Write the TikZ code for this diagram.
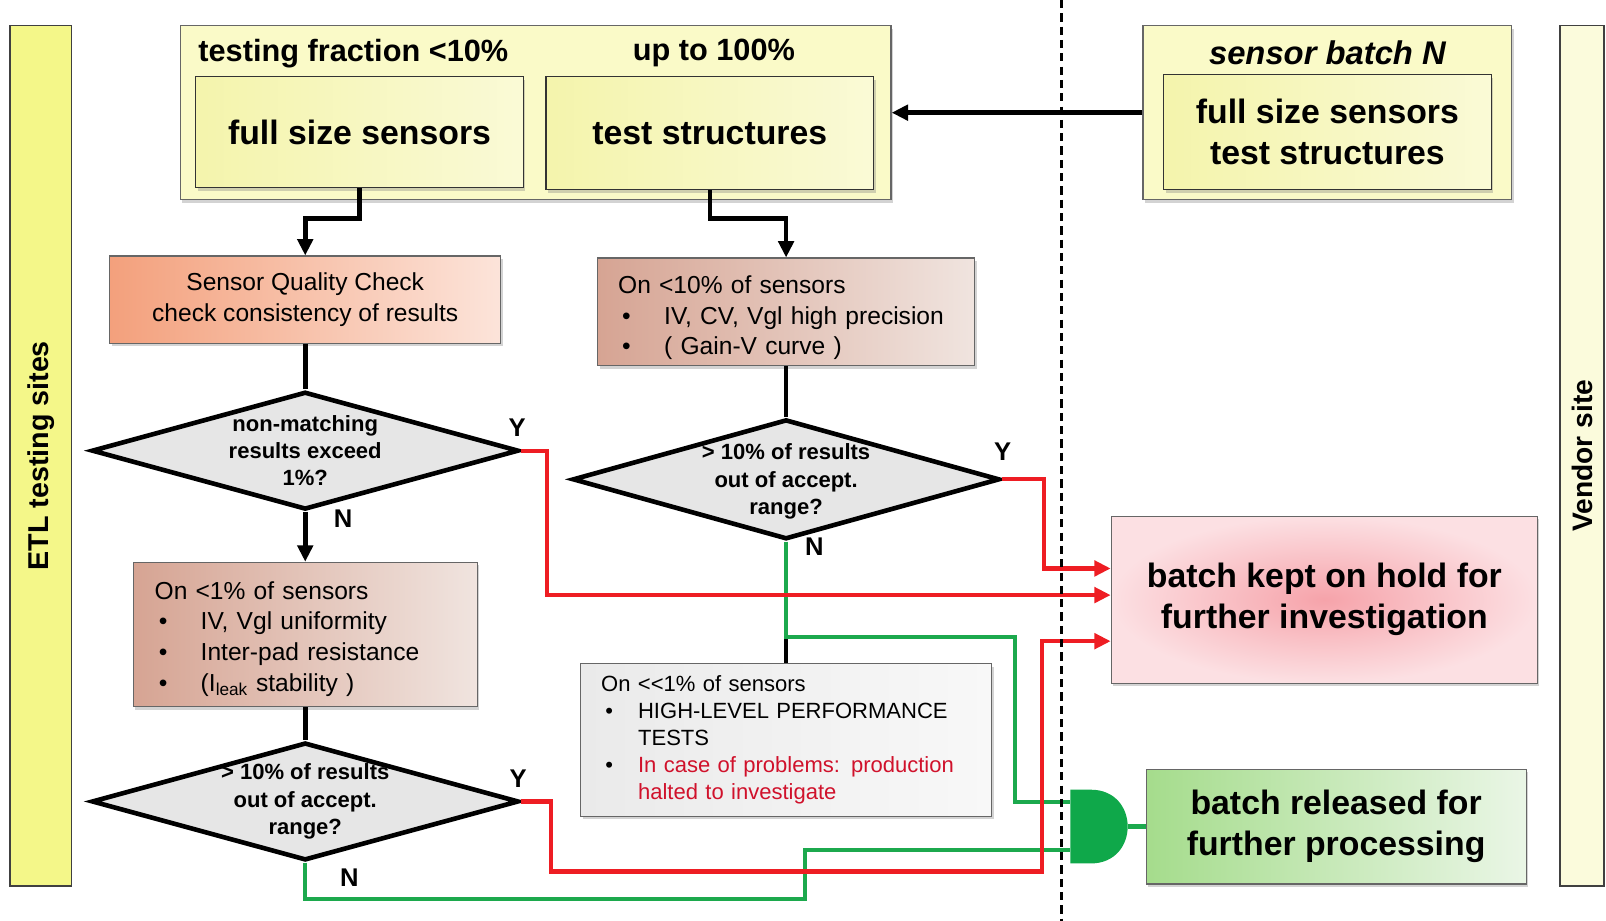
\documentclass[tikz,border=0pt]{standalone}
\usepackage{fontspec}
\setmainfont{Liberation Sans}
\usepackage{tikz}
\usetikzlibrary{positioning}
\usetikzlibrary{shapes.geometric}
\usetikzlibrary{shadows}
\usetikzlibrary{arrows.meta}
\usetikzlibrary{calc}

\definecolor{sitey}{HTML}{F4F789}
\definecolor{vendory}{HTML}{FBFBDC}
\definecolor{pale}{HTML}{FAFAC8}
\definecolor{paleL}{HTML}{F4F4AC}
\definecolor{paleR}{HTML}{FAFAD6}
\definecolor{sqcL}{HTML}{F3A07C}
\definecolor{sqcR}{HTML}{FCE4DA}
\definecolor{testL}{HTML}{D6A493}
\definecolor{testR}{HTML}{F0E4DF}
\definecolor{perfL}{HTML}{EAEAEA}
\definecolor{perfR}{HTML}{F8F8F8}
\definecolor{holdin}{HTML}{F6A3AA}
\definecolor{holdout}{HTML}{FCE0E3}
\definecolor{relL}{HTML}{A5DC8C}
\definecolor{relR}{HTML}{EAF6E6}
\definecolor{decfill}{HTML}{E6E6E6}
\definecolor{holdred}{HTML}{EE1D23}
\definecolor{passgreen}{HTML}{1CA94D}
\definecolor{gatefill}{HTML}{0FA84A}
\definecolor{alert}{HTML}{D0112B}

\newcommand{\itemdot}[1]{\makebox[#1][l]{\hspace{4pt}\textbullet}}

\begin{document}
\begin{tikzpicture}[x=1pt, y=-1pt,
    >={Triangle[length=16pt,width=15pt]},
    boxshadow/.style={drop shadow={shadow xshift=2pt, shadow yshift=-3pt, opacity=0.35}},
    sitebar/.style={draw=black!75, line width=1.5pt, inner sep=0pt, font=\fontsize{28}{34}\selectfont\bfseries},
    stackbox/.style={draw=black!60, line width=1.2pt, fill=pale, inner sep=0pt, boxshadow},
    sample/.style={draw=black!80, line width=1.2pt, left color=paleL, right color=paleR, inner sep=0pt, boxshadow, align=center, font=\fontsize{33}{40}\selectfont\bfseries},
    header/.style={font=\fontsize{30}{36}\selectfont\bfseries},
    checkbox/.style={draw=black!60, line width=1.2pt, inner sep=0pt, boxshadow, align=center, font=\fontsize{24}{30}\selectfont},
    listbox/.style={draw=black!60, line width=1.2pt, inner ysep=0pt, boxshadow, align=left, font=\fontsize{24}{30}\selectfont},
    decision/.style={diamond, draw=black, line width=4.5pt, fill=decfill, inner sep=0pt, minimum width=417pt, minimum height=115pt},
    dectext/.style={align=center, font=\fontsize{21.5}{26.5}\selectfont\bfseries},
    yn/.style={font=\fontsize{25}{30}\selectfont\bfseries},
    outcome/.style={draw=black!60, line width=1.2pt, inner sep=0pt, boxshadow, align=center, font=\fontsize{33}{40}\selectfont\bfseries},
    flow/.style={->, line width=4.5pt},
    link/.style={line width=4.5pt},
    redflow/.style={->, draw=holdred, line width=4.2pt},
    greenflow/.style={draw=passgreen, line width=4.2pt},
  ]
  \useasboundingbox (0,0) rectangle (1568,899);

  % sites
  \node[sitebar, fill=sitey, minimum width=60pt, minimum height=840pt] (etl) at (40,445) {\rotatebox{90}{ETL testing sites}};
  \node[sitebar, fill=vendory, minimum width=43pt, minimum height=840pt, font=\fontsize{27.5}{33}\selectfont\bfseries] (vendor) at (1544.5,445) {\rotatebox{90}{Vendor site}};

  % samples
  \node[stackbox, minimum width=694pt, minimum height=170pt] (testing) at (523,110) {};
  \node[header] (fraction) at (345,52) {testing fraction <10\%};
  \node[header] (upto)     at (697,52) {up to 100\%};
  \node[sample, minimum width=320pt, minimum height=108pt] (fullsize)   at (351,129) {full size sensors};
  \node[sample, minimum width=320pt, minimum height=110pt] (teststruct) at (693,130) {test structures};

  \node[stackbox, minimum width=360pt, minimum height=170pt] (batch) at (1296,110) {};
  \node[header] (batchname) at (1296,52) {\fontsize{32}{38}\selectfont\itshape sensor batch N};
  \node[sample, minimum width=320pt, minimum height=112pt] (batchcontent) at (1296,129) {full size sensors\\test structures};

  % checks
  \node[checkbox, left color=sqcL, right color=sqcR, minimum width=382pt, minimum height=85pt] (sqc) at (298,292.5) {Sensor Quality Check\\check consistency of results};
  \node[listbox, left color=testL, right color=testR, text width=328pt, inner xsep=20pt, minimum height=105pt] (precision) at (767.5,304.5)
    {\rule{0pt}{29pt}On <10\% of sensors\\\itemdot{45pt}IV, CV, Vgl high precision\\\itemdot{45pt}( Gain-V curve )};
  \node[listbox, left color=testL, right color=testR, text width=294pt, inner xsep=21pt, minimum height=141pt] (uniformity) at (298,619.5)
    {\rule{0pt}{26pt}On <1\% of sensors\\\itemdot{45pt}IV, Vgl uniformity\\\itemdot{45pt}Inter-pad resistance\\\itemdot{45pt}(I\textsubscript{leak} stability )};
  \node[listbox, left color=perfL, right color=perfR, text width=361pt, inner xsep=20pt, minimum height=149pt, font=\fontsize{21.5}{26.3}\selectfont] (performance) at (767.5,722.5)
    {On <{}<1\% of sensors\\\itemdot{36pt}HIGH-LEVEL PERFORMANCE\\\hspace*{36pt}TESTS\\\itemdot{36pt}\textcolor{alert}{In case of problems: production}\\\hspace*{36pt}\textcolor{alert}{halted to investigate}};

  % decisions
  \node[decision, label={[dectext]center:{non-matching\\results exceed\\1\%?}}] (dec1) at (298,440) {};
  \node[decision, minimum height=117pt, label={[dectext, yshift=-2pt]center:{> 10\% of results\\out of accept.\\range?}}] (dec2) at (767.5,468) {};
  \node[decision, label={[dectext]center:{> 10\% of results\\out of accept.\\range?}}] (dec3) at (298,782.5) {};
  \node[yn] (y1) at (505,418) {Y};
  \node[yn] (n1) at (335,506) {N};
  \node[yn] (y2) at (979,441) {Y};
  \node[yn] (n2) at (795,534) {N};
  \node[yn] (y3) at (506,760) {Y};
  \node[yn] (n3) at (341,857) {N};

  % outcomes
  \node[outcome, inner color=holdin, outer color=holdout, minimum width=416pt, minimum height=163pt] (hold) at (1293,585.5) {batch kept on hold for\\further investigation};
  \node[outcome, left color=relL, right color=relR, minimum width=371pt, minimum height=112pt] (release) at (1304.5,807) {batch released for\\further processing};

  \coordinate (gatein1) at (1045,783);
  \coordinate (gatein2) at (1045,830);
  \coordinate (gateout) at (1101,807);
  \coordinate (nsplit) at (767.5,622);
  \fill[gatefill] (1045,771) -- (1065,771) .. controls (1113,771) and (1113,843) .. (1065,843) -- (1045,843) -- cycle;

  % connectors
  \draw[flow] (batch.west) -- (testing.east);
  \draw[flow] (fullsize.south) -- ++(0,30) -| (sqc.north);
  \draw[flow] (teststruct.south) -- ++(0,28) -| (precision.north);
  \draw[link] (sqc.south) -- (dec1.north);
  \draw[flow] (dec1.south) -- (uniformity.north);
  \draw[link] (uniformity.south) -- (dec3.north);
  \draw[link] (precision.south) -- (dec2.north);
  \draw[link] (nsplit) -- (performance.north);

  \draw[greenflow] (dec2.south) |- (991,622) |- (gatein1);
  \draw[greenflow] (dec3.south) |- (786,878) |- (gatein2);
  \draw[greenflow] (gateout) -- (release.west);

  \draw[redflow] (dec1.east) -- ++(25,0) |- ($(hold.west)+(0,-4.5)$);
  \draw[redflow] (dec2.east) -- ++(41,0) |- ($(hold.west)+(0,-30.5)$);
  \draw[redflow] (dec3.east) -- ++(29,0) |- (1017,851) |- ($(hold.west)+(0,40.5)$);

  \draw[line width=3pt, dash pattern=on 8pt off 5pt] (1036,0) -- (1036,899);
\end{tikzpicture}
\end{document}
